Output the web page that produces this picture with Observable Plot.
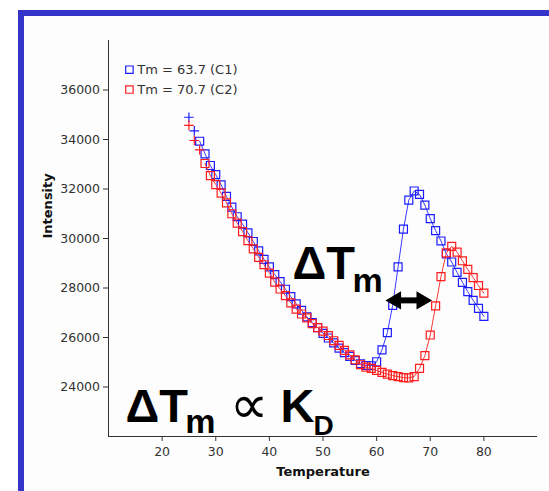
<!DOCTYPE html>
<html><head><meta charset="utf-8">
<script src="https://cdn.jsdelivr.net/npm/d3@7"></script>
<script src="https://cdn.jsdelivr.net/npm/@observablehq/plot@0.6"></script>
<style>
html,body{margin:0;padding:0;background:#fff;}
#wrap{position:relative;width:549px;height:491px;overflow:hidden;}
#frame{position:absolute;left:18px;top:10px;right:0;bottom:0;border-left:6px solid #3434c8;border-top:6px solid #3434c8;background:#fdfdfd;}
#chart{position:absolute;left:0;top:0;}
</style></head>
<body><div id="wrap"><div id="frame"></div><div id="chart"></div></div>
<script>
// ---- data ----
const temperature = [25,26,27,28,29,30,31,32,33,34,35,36,37,38,39,40,41,42,43,44,45,46,47,48,49,50,51,52,53,54,55,56,57,58,59,60,61,62,63,64,65,66,67,68,69,70,71,72,73,74,75,76,77,78,79,80];
const intensityC1 = [34900,34350,33930,33420,32950,32580,32170,31700,31270,30880,30580,30230,29880,29500,29160,28850,28540,28260,27950,27650,27360,27100,26830,26600,26400,26170,25980,25780,25570,25390,25240,25070,24940,24870,24860,25020,25500,26200,27300,28850,30380,31550,31920,31780,31350,30800,30320,29900,29380,29050,28630,28230,27850,27500,27180,26850];
const intensityC2 = [34570,33960,33580,33030,32540,32180,31830,31440,31000,30620,30280,29910,29580,29240,28940,28600,28240,27960,27690,27400,27150,26950,26790,26560,26400,26260,26080,25870,25680,25480,25300,25100,24900,24800,24750,24670,24590,24520,24460,24420,24380,24370,24420,24750,25270,26100,27280,28460,29420,29680,29450,29100,28750,28420,28100,27790];
const plusCount = [2, 3];            // leading readings shown as "+"
const seriesLabels = ["Tm = 63.7 (C1)", "Tm = 70.7 (C2)"];
const xTicks = [20,30,40,50,60,70,80];
const yTicks = [24000,26000,28000,30000,32000,34000,36000];
const xLabel = "Temperature";
const yLabel = "Intensity";

// annotation anchors (data units)
const legendX = 13.9, legendTextX = 15.35, legendY = [36820, 36020];
const arrowSpan = [63.58, 68.41], arrowLevel = 27500;
const bigText = [
  {text:"ΔT", x:44.3, y:28380},
  {text:"ΔT", x:13.17, y:22566},
  {text:"K", x:42.07, y:22566}
];
const subText = [
  {text:"m", x:55.5, y:27852, size:34},
  {text:"m", x:24.3, y:22125, size:34},
  {text:"D", x:48.23, y:22050, size:28}
];
const propText = [{text:"∝", x:32.6, y:22560}];

// ---- styles ----
const markColors = ["#1c1cff", "#ff1c1c"];
const lineColors = ["#3a3aff", "#ff3a3a"];

const series = [intensityC1, intensityC2].map((vals, s) =>
  temperature.map((t, i) => ({t, v: vals[i], plus: i < plusCount[s]})));

const seriesMarks = series.flatMap((rows, s) => [
  Plot.line(rows.filter(d => !d.plus), {x:"t", y:"v", stroke: lineColors[s], strokeWidth: 1}),
  Plot.dot(rows.filter(d => !d.plus), {x:"t", y:"v", symbol:"square", r:4.5, stroke: markColors[s], strokeWidth:1.2, fill:"none"}),
  Plot.dot(rows.filter(d => d.plus), {x:"t", y:"v", symbol:"plus", r:3.2, stroke: markColors[s], strokeWidth:1.2})
]);

const legendMarks = seriesLabels.flatMap((lab, i) => [
  Plot.dot([lab], {x: () => legendX, y: () => legendY[i], symbol:"square", r:4.2, stroke: markColors[i], strokeWidth:1.2, fill:"none"}),
  Plot.text([lab], {x: () => legendTextX, y: () => legendY[i], text: d => d, textAnchor:"start", lineAnchor:"middle", fontSize:13, fill:"#333"})
]);

const chart = Plot.plot({
  width: 549, height: 491,
  marginLeft: 108, marginRight: 12, marginTop: 40, marginBottom: 55,
  x: {domain: [10, 90]},
  y: {domain: [22000, 38000]},
  style: {background: "transparent", fontFamily: "'DejaVu Sans', sans-serif", fontSize: "12.5px", color: "#333", overflow: "visible"},
  marks: [
    Plot.ruleX([10], {stroke: "#333"}),
    Plot.ruleY([22000], {stroke: "#333"}),
    Plot.axisX({ticks: xTicks, tickSize: 5, tickPadding: 6, tickFormat: d => String(d), label: null}),
    Plot.axisY({ticks: yTicks, tickSize: 5, tickPadding: 3.5, tickFormat: d => String(d), label: null}),
    Plot.text([xLabel], {frameAnchor: "bottom", dy: 35, text: d => d, lineAnchor: "middle", fontWeight: "bold", fontSize: 13, fill: "#111"}),
    Plot.text([yLabel], {frameAnchor: "left", dx: -61, text: d => d, rotate: -90, lineAnchor: "middle", fontWeight: "bold", fontSize: 13, fill: "#111"}),
    ...seriesMarks,
    Plot.link([arrowSpan], {x1: d => d[0], x2: d => d[1], y1: () => arrowLevel, y2: () => arrowLevel, stroke: "#000", strokeWidth: 6}),
    Plot.dot([arrowSpan[0]], {x: d => d, y: () => arrowLevel, symbol: "triangle", r: 6.7, rotate: -90, fill: "#000", stroke: "none"}),
    Plot.dot([arrowSpan[1]], {x: d => d, y: () => arrowLevel, symbol: "triangle", r: 6.7, rotate: 90, fill: "#000", stroke: "none"}),
    Plot.text(bigText, {x: "x", y: "y", text: "text", textAnchor: "start", lineAnchor: "bottom", fontSize: 47, fontWeight: "bold", fontFamily: "'Liberation Sans', Arial, sans-serif", fill: "#000", clip: true}),
    ...subText.map(d => Plot.text([d], {x: "x", y: "y", text: "text", textAnchor: "start", lineAnchor: "bottom", fontSize: d.size, fontWeight: "bold", fontFamily: "'Liberation Sans', Arial, sans-serif", fill: "#000", clip: true})),
    Plot.text(propText, {x: "x", y: "y", text: "text", textAnchor: "start", lineAnchor: "bottom", fontSize: 54, fontFamily: "'DejaVu Sans', sans-serif", fill: "#000", clip: true}),
    ...legendMarks
  ]
});
document.getElementById("chart").appendChild(chart);
</script>
</body></html>
